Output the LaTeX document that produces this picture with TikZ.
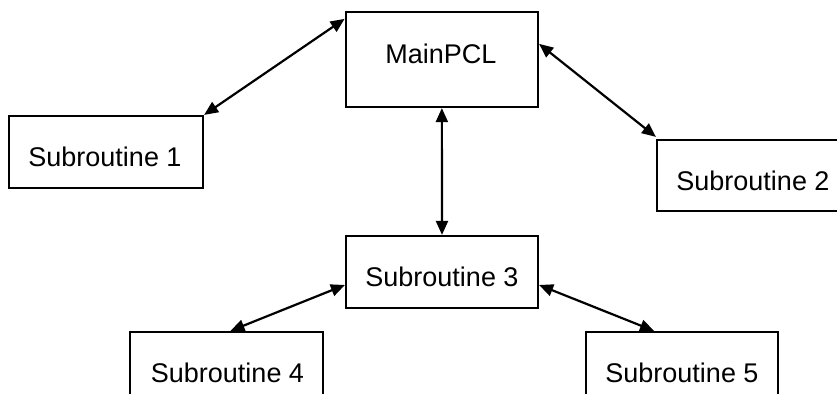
\documentclass[tikz,border=0pt]{standalone}
\usepackage{fontspec}
\setmainfont{Liberation Sans}
\usetikzlibrary{arrows.meta}
\begin{document}
\begin{tikzpicture}[x=0.5pt,y=-0.5pt,
  box/.style={draw=black, line width=1.1pt, rectangle, inner sep=0pt, fill=white},
  lbl/.style={anchor=base, inner sep=0pt, font=\fontsize{13.5}{16}\selectfont},
  conn/.style={line width=1.1pt, {Triangle[length=7pt,width=6pt]}-{Triangle[length=7pt,width=6pt]}}]
\useasboundingbox (0,0) rectangle (837,394);
\clip (0,0) rectangle (837,394);
\node[box, minimum width=96.15pt, minimum height=47.5pt] (m) at (441.85,59.5) {};
\node[box, minimum width=97pt, minimum height=36pt] (s1) at (106,152) {};
\node[box, minimum width=96pt, minimum height=35.5pt] (s2) at (753,175.5) {};
\node[box, minimum width=96pt, minimum height=36pt] (s3) at (442,272) {};
\node[box, minimum width=96.5pt, minimum height=39pt] (s4) at (226.5,371) {};
\node[box, minimum width=96pt, minimum height=39pt] (s5) at (682,371) {};
\node[lbl] (tm) at (441,64) {MainPCL};
\node[lbl] (t1) at (105,167) {Subroutine 1};
\node[lbl] (t2) at (753,191) {Subroutine 2};
\node[lbl] (t3) at (442,287) {Subroutine 3};
\node[lbl] (t4) at (227.5,383) {Subroutine 4};
\node[lbl] (t5) at (682,383) {Subroutine 5};
\draw[conn] (s1.north east) -- ([yshift=-4pt]m.north west);
\draw[conn] ([yshift=-16.5pt]m.north east) -- ([yshift=1pt]s2.north west);
\draw[conn] (m.south) -- (s3.north);
\draw[conn] ([yshift=-6.5pt]s3.west) -- ([xshift=2pt]s4.north);
\draw[conn] ([yshift=-6.5pt]s3.east) -- ([xshift=-14pt]s5.north);
\end{tikzpicture}
\end{document}
